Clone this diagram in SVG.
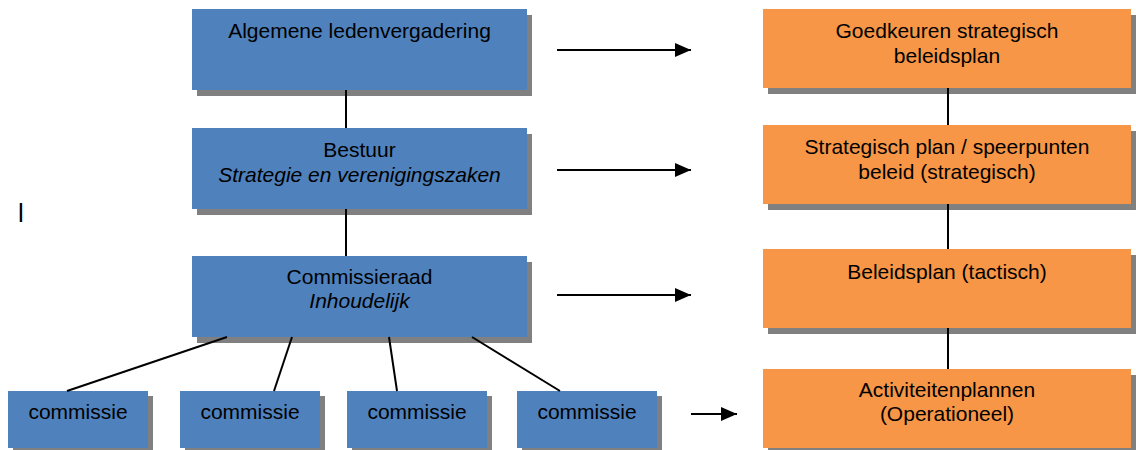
<svg xmlns="http://www.w3.org/2000/svg" width="1136" height="450" viewBox="0 0 1136 450">
<style>
.shadow{fill:#808080}
.blue{fill:#4F81BD}
.orange{fill:#F79646}
text{font-family:"Liberation Sans",Arial,sans-serif;font-size:21px;fill:#000;text-anchor:middle}
.it{font-style:italic}
.conn line{stroke:#000;stroke-width:2}
.arr line{stroke:#000;stroke-width:2}
</style>
<defs>
<marker id="ah" viewBox="0 0 16 14" refX="16" refY="7" markerWidth="16" markerHeight="14" markerUnits="userSpaceOnUse" orient="auto">
<path d="M0,0 L16,7 L0,14 Z" fill="#000"/>
</marker>
</defs>
<rect width="1136" height="450" fill="#fff"/>
<g id="alv">
<rect class="shadow" x="197" y="15" width="335" height="81"/>
<rect class="blue" x="192" y="9" width="335" height="81"/>
<text x="359.5" y="38">Algemene ledenvergadering</text>
</g>
<g id="bestuur">
<rect class="shadow" x="197" y="134" width="335" height="81"/>
<rect class="blue" x="192" y="128" width="335" height="81"/>
<text x="359.5" y="157">Bestuur</text>
<text class="it" x="359.5" y="182">Strategie en verenigingszaken</text>
</g>
<g id="commissieraad">
<rect class="shadow" x="197" y="262" width="335" height="81"/>
<rect class="blue" x="192" y="256" width="335" height="81"/>
<text x="359.5" y="284">Commissieraad</text>
<text class="it" x="359.5" y="308">Inhoudelijk</text>
</g>
<g id="commissie1">
<rect class="shadow" x="13" y="396" width="140" height="57"/>
<rect class="blue" x="8" y="391" width="140" height="57"/>
<text x="78" y="419">commissie</text>
</g>
<g id="commissie2">
<rect class="shadow" x="185" y="396" width="140" height="57"/>
<rect class="blue" x="180" y="391" width="140" height="57"/>
<text x="250" y="419">commissie</text>
</g>
<g id="commissie3">
<rect class="shadow" x="352" y="396" width="140" height="57"/>
<rect class="blue" x="347" y="391" width="140" height="57"/>
<text x="417" y="419">commissie</text>
</g>
<g id="commissie4">
<rect class="shadow" x="522" y="396" width="140" height="57"/>
<rect class="blue" x="517" y="391" width="140" height="57"/>
<text x="587" y="419">commissie</text>
</g>
<g id="goedkeuren">
<rect class="shadow" x="768" y="15" width="368" height="79"/>
<rect class="orange" x="763" y="9" width="368" height="79"/>
<text x="947" y="38">Goedkeuren strategisch</text>
<text x="947" y="63">beleidsplan</text>
</g>
<g id="strategisch">
<rect class="shadow" x="768" y="131" width="368" height="79"/>
<rect class="orange" x="763" y="125" width="368" height="79"/>
<text x="947" y="154">Strategisch plan / speerpunten</text>
<text x="947" y="179">beleid (strategisch)</text>
</g>
<g id="beleidsplan">
<rect class="shadow" x="768" y="255" width="368" height="79"/>
<rect class="orange" x="763" y="249" width="368" height="79"/>
<text x="947" y="279">Beleidsplan (tactisch)</text>
</g>
<g id="activiteiten">
<rect class="shadow" x="768" y="375" width="368" height="79"/>
<rect class="orange" x="763" y="369" width="368" height="79"/>
<text x="947" y="397">Activiteitenplannen</text>
<text x="947" y="421">(Operationeel)</text>
</g>
<g id="connectors" class="conn">
<line x1="346" y1="90" x2="346" y2="128"/>
<line x1="346" y1="209" x2="346" y2="256"/>
<line x1="227" y1="337" x2="67" y2="391"/>
<line x1="292" y1="337" x2="274" y2="391"/>
<line x1="389" y1="337" x2="397" y2="391"/>
<line x1="472" y1="337" x2="560" y2="391"/>
<line x1="948" y1="88" x2="948" y2="125"/>
<line x1="948" y1="204" x2="948" y2="249"/>
<line x1="948" y1="328" x2="948" y2="369"/>
</g>
<g id="arrows" class="arr">
<line x1="557" y1="50" x2="691" y2="50" marker-end="url(#ah)"/>
<line x1="557" y1="170" x2="691" y2="170" marker-end="url(#ah)"/>
<line x1="557" y1="295" x2="691" y2="295" marker-end="url(#ah)"/>
<line x1="691" y1="414" x2="737" y2="414" marker-end="url(#ah)"/>
</g>
<text x="21" y="222" style="font-size:26px">l</text>
</svg>
